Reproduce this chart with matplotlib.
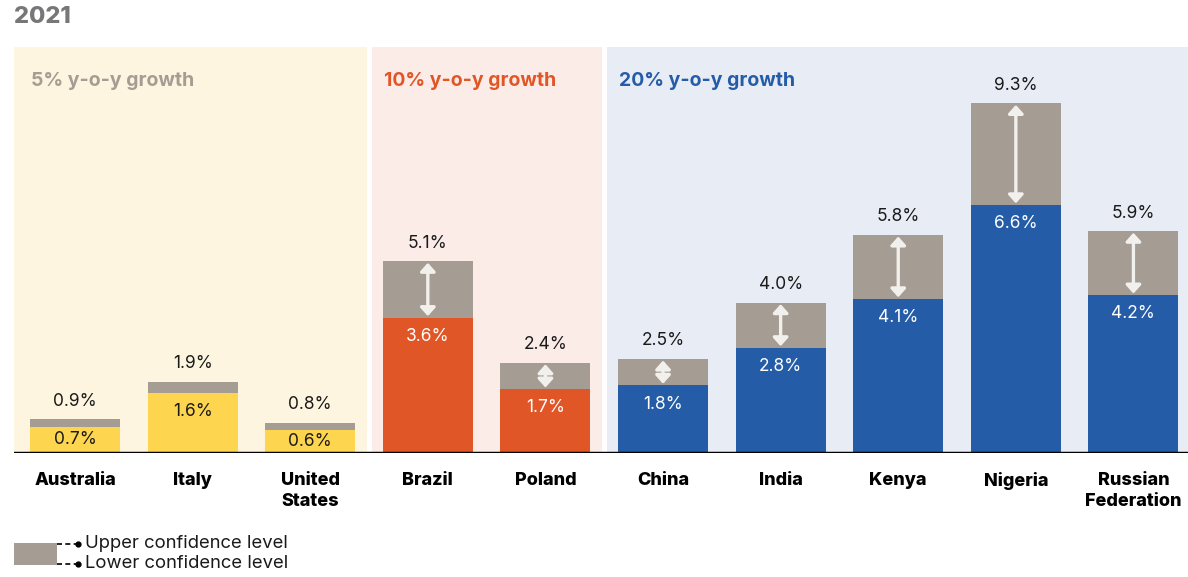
import matplotlib
matplotlib.use('Agg')
import matplotlib.pyplot as plt
from matplotlib.patches import Rectangle
from matplotlib.lines import Line2D

countries = ['Australia', 'Italy', 'United\nStates', 'Brazil', 'Poland',
             'China', 'India', 'Kenya', 'Nigeria', 'Russian\nFederation']
lower = [0.7, 1.6, 0.6, 3.6, 1.7, 1.8, 2.8, 4.1, 6.6, 4.2]
upper = [0.9, 1.9, 0.8, 5.1, 2.4, 2.5, 4.0, 5.8, 9.3, 5.9]
groups = [0, 0, 0, 1, 1, 2, 2, 2, 2, 2]
group_titles = ['5% y-o-y growth', '10% y-o-y growth', '20% y-o-y growth']

bar_cols = ['#FDD54F', '#E05627', '#245CA8']
bg_cols = ['#FDF5DF', '#FCECE7', '#E8ECF5']
title_cols = ['#A59C93', '#E05627', '#245CA8']
grey = '#A59C93'

plt.rcParams['font.family'] = ['Inter', 'DejaVu Sans']

W, H = 1188, 577
fig = plt.figure(figsize=(W / 100, H / 100), dpi=100)
ax = fig.add_axes([14 / W, 1 - 453 / H, (1188 - 14) / W, (453 - 47) / H])

x0 = -0.519
ax.set_xlim(x0, 9.464)
ax.set_ylim(0, 10.8)

# group panels
spans = [(x0, 2.483), (2.526, 4.481), (4.524, 9.464)]
starts = [-0.374, 2.628, 4.626]
for g in range(3):
    ax.axvspan(spans[g][0], spans[g][1], color=bg_cols[g], lw=0, zorder=0)
    ax.text(starts[g], 9.9, group_titles[g], color=title_cols[g],
            fontsize=14, fontweight='bold', va='center', ha='left')

xs = list(range(len(countries)))
for i in xs:
    g = groups[i]
    ax.bar(i, lower[i], width=0.766, color=bar_cols[g], zorder=2)
    ax.bar(i, upper[i] - lower[i], bottom=lower[i], width=0.766, color=grey, zorder=2)
    ax.text(i, upper[i] + 0.48, f'{upper[i]:.1f}%', ha='center', va='center',
            fontsize=12.5, color='#1a1a1a', zorder=3)
    ly = max(lower[i] - 0.5, lower[i] / 2)
    ax.text(i, ly, f'{lower[i]:.1f}%', ha='center', va='center', fontsize=12.5,
            color='#1a1a1a' if g == 0 else 'white', zorder=3)
    if g > 0:
        ax.annotate('', xy=(i, lower[i] + 0.04), xytext=(i, upper[i] - 0.04),
                    arrowprops=dict(arrowstyle='<|-|>,head_width=0.45,head_length=0.5',
                                    color='#F2F0EC', lw=2.4, shrinkA=0, shrinkB=0),
                    zorder=4)

ax.axhline(0, color='black', lw=2.5, zorder=5)
ax.set_xticks(xs)
ax.set_xticklabels(countries, fontweight='heavy', fontsize=13, linespacing=1.3)
ax.tick_params(axis='x', length=0, pad=14)
ax.set_yticks([])
for s in ax.spines.values():
    s.set_visible(False)

fig.text(14 / W, 1 - 17 / H, '2021', fontsize=17, fontweight='heavy',
         color='#77777A', va='center', ha='left')

# legend
fig.add_artist(Rectangle((14 / W, 1 - 565 / H), 43 / W, 22 / H,
                         transform=fig.transFigure, color=grey, lw=0))
for yy, lab in [(544, 'Upper confidence level'), (564, 'Lower confidence level')]:
    yf = 1 - yy / H
    fig.add_artist(Line2D([57 / W, 76 / W], [yf, yf], transform=fig.transFigure,
                          color='black', lw=1.2, ls=(0, (3, 2))))
    fig.add_artist(Line2D([78 / W], [yf], transform=fig.transFigure, marker='o',
                          ms=3.5, color='black'))
    fig.text(85 / W, yf, lab, fontsize=13.3, va='center', ha='left', color='#1a1a1a')

fig.savefig('out.png', dpi=100)
